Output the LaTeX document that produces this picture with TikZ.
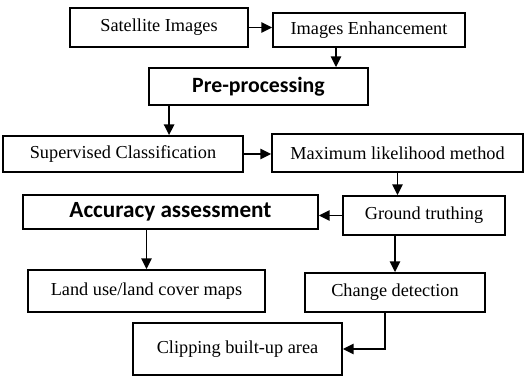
\documentclass[tikz,border=0pt]{standalone}
\usepackage{fontspec}
\setmainfont{Liberation Serif}
\newfontfamily\hdrfont{Carlito}
\usetikzlibrary{arrows.meta,calc}

\begin{document}
\begin{tikzpicture}[x=0.025cm,y=-0.025cm,font=\fontsize{13}{15}\selectfont,
  blk/.style={draw=black,line width=1.3pt,inner sep=0pt,align=center},
  hdr/.style={blk,font=\hdrfont\bfseries\fontsize{15.5}{17}\selectfont},
  arr/.style={-{Triangle[length=2.7mm,width=2.6mm]},line width=1.3pt}]
\useasboundingbox (0,0) rectangle (526,379);
% boxes, placed at their centres
\node[blk,minimum width=178*0.025cm,minimum height=39*0.025cm](sat) at (159,27.5){Satellite Images};
\node[blk,minimum width=192*0.025cm,minimum height=34*0.025cm](enh) at (369,30){Images Enhancement};
\node[hdr,minimum width=219*0.025cm,minimum height=37*0.025cm](pre) at (258.5,86.5){Pre-processing};
\node[blk,minimum width=240*0.025cm,minimum height=36*0.025cm](sup) at (123,154){Supervised Classification};
\node[blk,minimum width=251*0.025cm,minimum height=38*0.025cm](mle) at (397.5,153){Maximum likelihood method};
\node[blk,minimum width=162*0.025cm,minimum height=39*0.025cm](gt) at (424,215.5){Ground truthing};
\node[hdr,font=\hdrfont\bfseries\fontsize{16.5}{18}\selectfont,
      minimum width=295*0.025cm,minimum height=34*0.025cm](acc) at (170.5,212){Accuracy assessment};
\node[blk,minimum width=237*0.025cm,minimum height=42*0.025cm](lulc) at (146.5,291){Land use/land cover maps};
\node[blk,minimum width=180*0.025cm,minimum height=39*0.025cm](chg) at (395,292.5){Change detection};
\node[blk,minimum width=209*0.025cm,minimum height=52*0.025cm](clip) at (237.5,349){Clipping built-up area};
% connectors
\draw[arr](sat.east)--(sat.east -| enh.west);
\draw[arr]($(enh.south)+(-33,0)$) coordinate(e1)--(e1 |- pre.north);
\draw[arr]($(pre.south west)+(21,0)$) coordinate(p1)--(p1 |- sup.north);
\draw[arr](sup.east)--(sup.east -| mle.west);
\draw[arr](mle.south)--(mle.south |- gt.north);
\draw[arr](gt.west)--(gt.west -| acc.east);
\draw[arr](acc.south -| lulc.north)--(lulc.north);
\draw[arr](gt.south -| chg.north)--(chg.north);
\draw[arr]($(chg.south)+(-10,0)$)|-(clip.east);
\end{tikzpicture}
\end{document}
